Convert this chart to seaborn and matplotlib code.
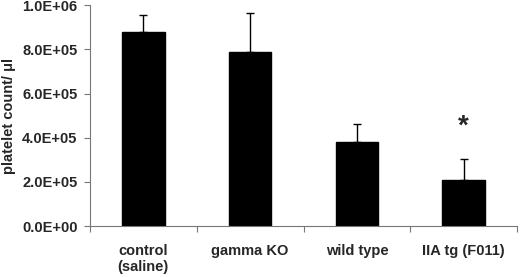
import matplotlib
matplotlib.use("Agg")
import matplotlib.pyplot as plt
import seaborn as sns
import numpy as np
from matplotlib.ticker import FixedLocator

categories = ["control\n(saline)", "gamma KO", "wild type", "IIA tg (F011)"]
values = [8.78e5, 7.86e5, 3.81e5, 2.10e5]
errors = [0.76e5, 1.80e5, 0.80e5, 0.92e5]
yticks = [0, 2e5, 4e5, 6e5, 8e5, 1e6]
ytick_labels = ["0.0E+00", "2.0E+05", "4.0E+05", "6.0E+05", "8.0E+05", "1.0E+06"]
star_index = 3
star_y = 4.5e5

sns.set_style("white")
plt.rcParams['font.family'] = ['Liberation Sans', 'DejaVu Sans']
plt.rcParams['font.weight'] = 'bold'

fig = plt.figure(figsize=(5.2, 2.77), dpi=100)
ax = fig.add_axes([90/520, 1-226/277, (517-90)/520, (226-5.2)/277])

sns.barplot(x=categories, y=values, color="black", width=0.4, ax=ax, saturation=1,
            edgecolor="black")
ax.errorbar(x=np.arange(len(values)), y=values,
            yerr=[np.zeros(len(errors)), errors], fmt='none', ecolor='black',
            elinewidth=1.0, capsize=3, capthick=1.0)
ax.text(star_index, star_y, "*", ha='center', va='center', fontsize=20, fontweight='bold')

ax.set_xlim(-0.5, len(categories) - 0.5)
ax.set_ylim(0, 1e6)
ax.set_yticks(yticks)
ax.set_yticklabels(ytick_labels, fontsize=10.5, fontweight='bold')
ax.set_xticks(np.arange(len(categories)))
ax.set_xticklabels(categories, fontsize=10.5, fontweight='bold')
ax.xaxis.set_minor_locator(FixedLocator(np.arange(len(categories) + 1) - 0.5))
ax.tick_params(axis='x', which='major', length=0, pad=13)
ax.tick_params(axis='x', which='minor', length=4, color='#777777', width=0.8, direction='out', bottom=True)
ax.tick_params(axis='y', length=4, color='#777777', width=0.8, direction='out', pad=5, left=True)
ax.set_ylabel("platelet count/ \u03bcl", fontsize=10.5, fontweight='bold', labelpad=4)
ax.set_xlabel("")

for s in ['top', 'right']:
    ax.spines[s].set_visible(False)
for s in ['left', 'bottom']:
    ax.spines[s].set_color('#777777')
    ax.spines[s].set_linewidth(0.8)

fig.savefig("out.png", dpi=100, facecolor='white')
